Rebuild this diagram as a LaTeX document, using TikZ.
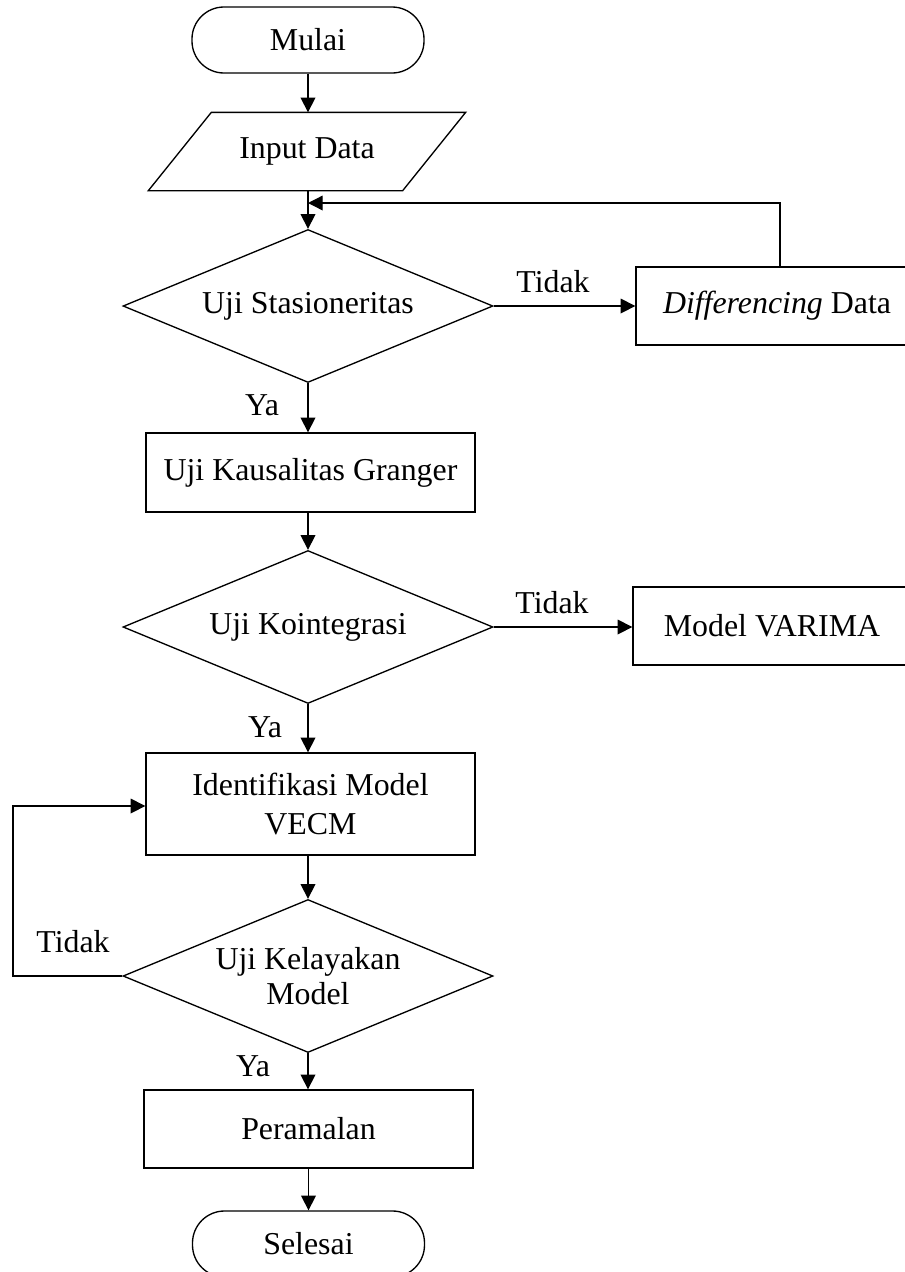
\documentclass[tikz,border=0pt]{standalone}
\usepackage{fontspec}
\setmainfont{Liberation Serif}
\usetikzlibrary{arrows.meta,shapes.geometric,calc}
\begin{document}
\begin{tikzpicture}[x=0.75pt,y=-0.75pt,
  line width=1pt,
  every node/.style={font=\fontsize{23.9}{28}\selectfont, inner sep=0pt, align=center},
  arr/.style={-{Triangle[length=11pt,width=11pt]}},
  term/.style={draw, rectangle, rounded corners=24pt, minimum width=174pt, minimum height=49.5pt},
  proc/.style={draw, rectangle, minimum height=58.5pt},
  dec/.style={draw, diamond, aspect=2.4, minimum width=277.5pt, minimum height=114.75pt}]
\useasboundingbox (0,0) rectangle (905,1272);

\node[term] (start) at (308,40) {Mulai};
\node[minimum width=189.75pt, minimum height=57.75pt] (input) at (307,151.5) {Input Data};
\draw ($(input.north west)+(31.5,0)$) -- ($(input.north east)+(31.5,0)$)
  -- ($(input.south east)+(-31.5,0)$) -- ($(input.south west)+(-31.5,0)$) -- cycle;
\node[dec] (d1) at (308,306) {Uji Stasioneritas};
\node[proc, minimum width=211.5pt] (diff) at (777,306) {\textit{Differencing} Data};
\node[proc, minimum width=246.75pt, minimum height=59.25pt] (granger) at (310.5,472.5) {Uji Kausalitas Granger};
\node[dec] (d2) at (308,627) {Uji Kointegrasi};
\node[proc, minimum width=208.5pt] (varima) at (772,626) {Model VARIMA};
\node[proc, minimum width=246.75pt, minimum height=76.5pt, font=\fontsize{23.9}{29}\selectfont] (vecm) at (310.5,804) {Identifikasi Model\\VECM};
\node[dec, font=\fontsize{23.9}{26.5}\selectfont] (d3) at (308,976) {Uji Kelayakan\\Model};
\node[proc, minimum width=246.75pt] (peramalan) at (308.5,1129) {Peramalan};
\node[term] (stop) at (308.5,1244) {Selesai};

% labels
\node (t1) at (553,282) {Tidak};
\node (t2) at (552,603) {Tidak};
\node (t3) at (73,942) {Tidak};
\node (y1) at (262,405) {Ya};
\node (y2) at (265,727) {Ya};
\node (y3) at (253,1066) {Ya};

% helper coordinates
\coordinate (fb) at (780,203);
\coordinate (lb) at (13,806);

% connectors
\draw[arr] (start.south) -- (start.south |- input.north);
\draw[arr] (d1.north |- input.south) -- (d1.north);
\draw[arr] (d1.east) -- (d1.east -| diff.west);
\draw[arr] (diff.north -| fb) -- (fb) -- (d1.north |- fb);
\draw[arr] (d1.south) -- (d1.south |- granger.north);
\draw[arr] (d2.north |- granger.south) -- (d2.north);
\draw[arr] (d2.east) -- (d2.east -| varima.west);
\draw[arr] (d2.south) -- (d2.south |- vecm.north);
\draw[arr] (d3.north |- vecm.south) -- (d3.north);
\draw[arr] (d3.west) -- (d3.west -| lb) -- (lb) -- (lb -| vecm.west);
\draw[arr] (d3.south) -- (d3.south |- peramalan.north);
\draw[arr] (stop.north |- peramalan.south) -- (stop.north);
\end{tikzpicture}
\end{document}
